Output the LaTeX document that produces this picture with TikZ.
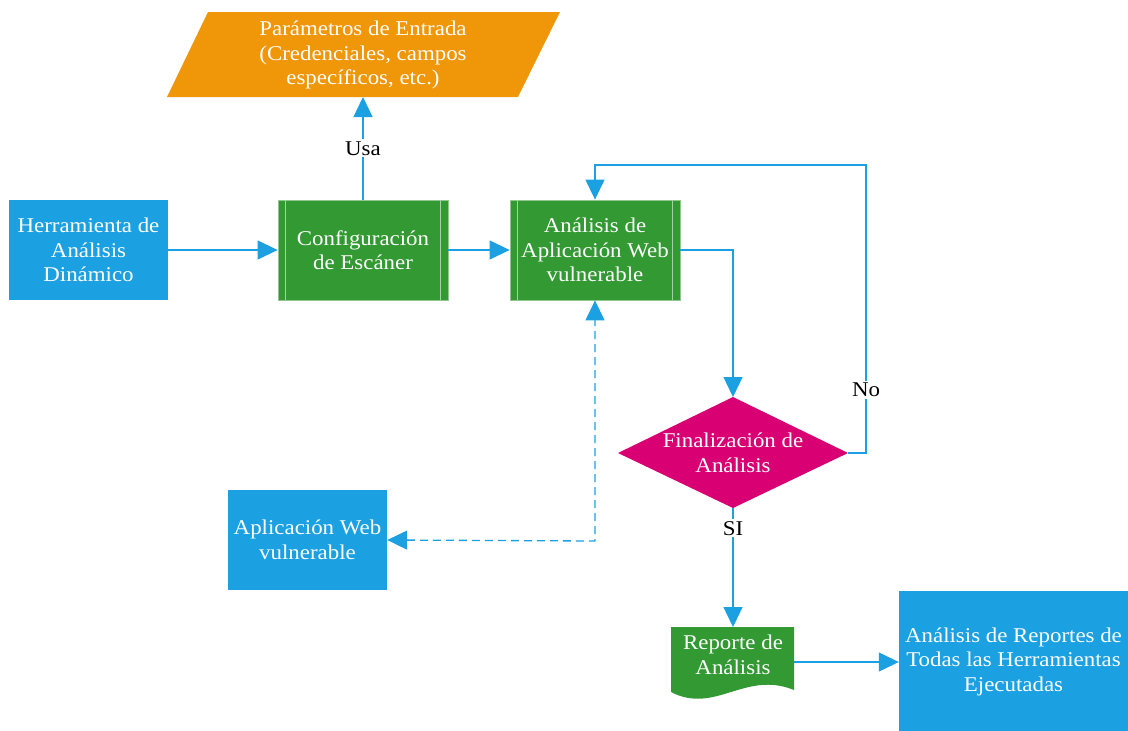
\documentclass[tikz,border=0pt]{standalone}
\usepackage{fontspec}
\setmainfont[FakeStretch=1.09]{Liberation Serif}
\usetikzlibrary{arrows.meta,calc}

\definecolor{mblue}{HTML}{1BA1E2}
\definecolor{mgreen}{HTML}{339933}
\definecolor{morange}{HTML}{F09609}
\definecolor{mmag}{HTML}{D80073}

\tikzset{
  txt/.style={font=\fontsize{21}{24.5}\selectfont, align=center, inner sep=0pt},
  box/.style={txt, fill=mblue, text=white, minimum width=159pt, minimum height=100pt},
  procbox/.style={txt, fill=mgreen, draw=mgreen!55!white, line width=0.8pt, text=white,
                  minimum width=170pt, minimum height=100pt},
  inner/.style={draw=mgreen!45!white, line width=0.9pt},
  conn/.style={draw=mblue, line width=1.3pt, -{Triangle[length=20pt,width=19pt]}},
  dconn/.style={draw=mblue, line width=1.3pt, dash pattern=on 8pt off 5pt,
                {Triangle[length=20pt,width=19pt]}-{Triangle[length=20pt,width=19pt]}},
  lbl/.style={txt, fill=white, text=black, inner sep=2pt}
}

\begin{document}
\begin{tikzpicture}[x=1pt,y=-1pt]
\useasboundingbox (0,0) rectangle (1128,731);

% input parameters (parallelogram)
\fill[morange] (208,12) -- (560,12) -- (518,97) -- (167,97) -- cycle;
\node[txt, text=white] (par) at (363,55) {Parámetros de Entrada\\(Credenciales, campos\\específicos, etc.)};
\coordinate (parb) at (363,97);

% main boxes
\node[box] (herr) at (88.5,250) {Herramienta de\\Análisis\\Dinámico};
\node[procbox] (conf) at (363,250) {Configuración\\de Escáner};
\node[procbox] (anal) at (595,250) {Análisis de\\Aplicación Web\\vulnerable};
\foreach \n in {conf,anal} {
  \draw[inner] ($(\n.north west)+(8,0)$) -- ($(\n.south west)+(8,0)$);
  \draw[inner] ($(\n.north east)+(-8,0)$) -- ($(\n.south east)+(-8,0)$);
}
\node[box] (apli) at (307.5,540) {Aplicación Web\\vulnerable};
\node[box, minimum width=229pt, minimum height=141pt] (fin) at (1013.5,661.5)
  {Análisis de Reportes de\\Todas las Herramientas\\Ejecutadas};

% decision
\coordinate (dect) at (733,397);
\coordinate (decr) at (848,453);
\coordinate (decb) at (733,508);
\coordinate (decl) at (618,453);
\fill[mmag] (decl) -- (dect) -- (decr) -- (decb) -- cycle;
\node[txt, text=white] (dec) at (733,453) {Finalización de\\Análisis};

% report document
\fill[mgreen] (671,627) -- (794,627) -- (794,690)
  .. controls (745,670) and (715,715) .. (671,692) -- cycle;
\node[txt, text=white] (rep) at (733,655) {Reporte de\\Análisis};
\coordinate (rept) at (733,627);
\coordinate (repr) at (794,662);

% connectors
\draw[conn] (herr) -- (conf);
\draw[conn] (conf) -- (anal);
\draw[conn] (conf.north) -- node[lbl, pos=0.5] (usa) {Usa} (parb);
\draw[conn] (anal.east) -| (dect);
\coordinate (loop) at (866,165);
\draw[conn] (decr) -| (loop) -| (anal.north);
\node[lbl] (no) at (866,390) {No};
\draw[conn] (decb) -- node[lbl, pos=0.17] (si) {SI} (rept);
\draw[conn] (repr) -- (repr -| fin.west);
\coordinate (dcorner) at (595,541);
\draw[dconn] (apli.east) -- (dcorner) -- (anal.south);
\end{tikzpicture}
\end{document}
